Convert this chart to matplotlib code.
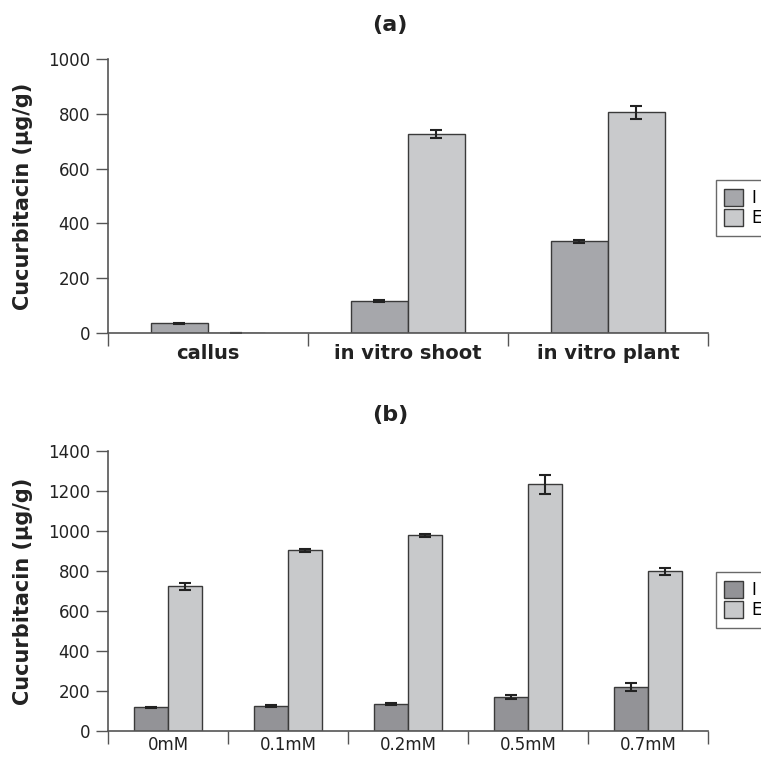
import numpy as np
import matplotlib
matplotlib.use("Agg")
import matplotlib.pyplot as plt
from matplotlib.ticker import FixedLocator, NullFormatter

# --- données ---
cat_a = ["callus", "in vitro shoot", "in vitro plant"]
a_I = [35, 116, 334]
a_I_err = [3, 4, 7]
a_E = [1, 725, 805]
a_E_err = [0, 15, 25]

cat_b = ["0mM", "0.1mM", "0.2mM", "0.5mM", "0.7mM"]
b_I = [117, 124, 134, 169, 219]
b_I_err = [3, 4, 3, 10, 20]
b_E = [724, 904, 979, 1235, 799]
b_E_err = [17, 7, 6, 47, 17]

series_labels = ["I", "E"]

W, H = 761, 757
fig = plt.figure(figsize=(W / 100, H / 100), dpi=100)

edge = "#3a3a3a"
spine_col = "#555555"


def draw_panel(ax, cats, vI, eI, vE, eE, colI, colE, ymax, ystep, bold_x, xfs, xpad):
    x = np.arange(len(cats))
    bw = 0.285
    ekw = dict(ecolor="#222222", elinewidth=1.5, capsize=4.5, capthick=1.5)
    ax.bar(x - bw / 2, vI, bw, color=colI, edgecolor=edge, linewidth=1.0,
           yerr=eI, error_kw=ekw, label=series_labels[0])
    ax.bar(x + bw / 2, vE, bw, color=colE, edgecolor=edge, linewidth=1.0,
           yerr=eE, error_kw=ekw, label=series_labels[1])
    ax.set_xlim(-0.5, len(cats) - 0.5)
    ax.set_ylim(0, ymax)
    ax.set_yticks(np.arange(0, ymax + 1, ystep))
    ax.tick_params(axis="y", direction="out", length=9, width=1, color=spine_col,
                   labelsize=12, labelcolor="#222222", pad=4)
    # ticks majeurs aux limites de catégories, étiquettes au centre
    ax.xaxis.set_major_locator(FixedLocator(np.arange(len(cats) + 1) - 0.5))
    ax.xaxis.set_major_formatter(NullFormatter())
    ax.set_xticks(x, minor=True)
    ax.set_xticklabels(cats, minor=True, fontsize=xfs,
                       fontweight="bold" if bold_x else "normal", color="#222222")
    ax.tick_params(axis="x", which="major", direction="out", length=9, width=1, color=spine_col)
    ax.tick_params(axis="x", which="minor", length=0, pad=xpad)
    for s in ["top", "right"]:
        ax.spines[s].set_visible(False)
    for s in ["left", "bottom"]:
        ax.spines[s].set_color(spine_col)
        ax.spines[s].set_linewidth(1.2)
    ax.set_ylabel("Cucurbitacin (µg/g)", fontsize=15, fontweight="bold", color="#222222")
    ax.yaxis.set_label_coords(-0.125, 0.5)


# la légende dépasse du bord droit, comme dans l'original
leg_kw = dict(loc="center left", bbox_transform=fig.transFigure, fontsize=12,
              frameon=True, fancybox=False, edgecolor="#444444", handlelength=1.1,
              handleheight=1.25, handletextpad=0.55, labelspacing=0.1, borderpad=0.5,
              borderaxespad=0)

# (a)
ax1 = fig.add_axes([108 / W, 1 - 333 / H, 600 / W, 274 / H])
draw_panel(ax1, cat_a, a_I, a_I_err, a_E, a_E_err, "#a6a7ab", "#c9cacc",
           1000, 200, True, 14, 8)
fig.text(390 / W, 1 - 25 / H, "(a)", ha="center", va="center",
         fontsize=16, fontweight="bold", color="#222222")
ax1.legend(bbox_to_anchor=(716 / W, 1 - 208 / H), **leg_kw)

# (b)
ax2 = fig.add_axes([108 / W, 1 - 730.7 / H, 600 / W, 279.3 / H])
draw_panel(ax2, cat_b, b_I, b_I_err, b_E, b_E_err, "#939397", "#c8c9cb",
           1400, 200, False, 12, 4)
fig.text(390 / W, 1 - 415 / H, "(b)", ha="center", va="center",
         fontsize=16, fontweight="bold", color="#222222")
ax2.legend(bbox_to_anchor=(716 / W, 1 - 600 / H), **leg_kw)

fig.savefig("out.png", dpi=100)
